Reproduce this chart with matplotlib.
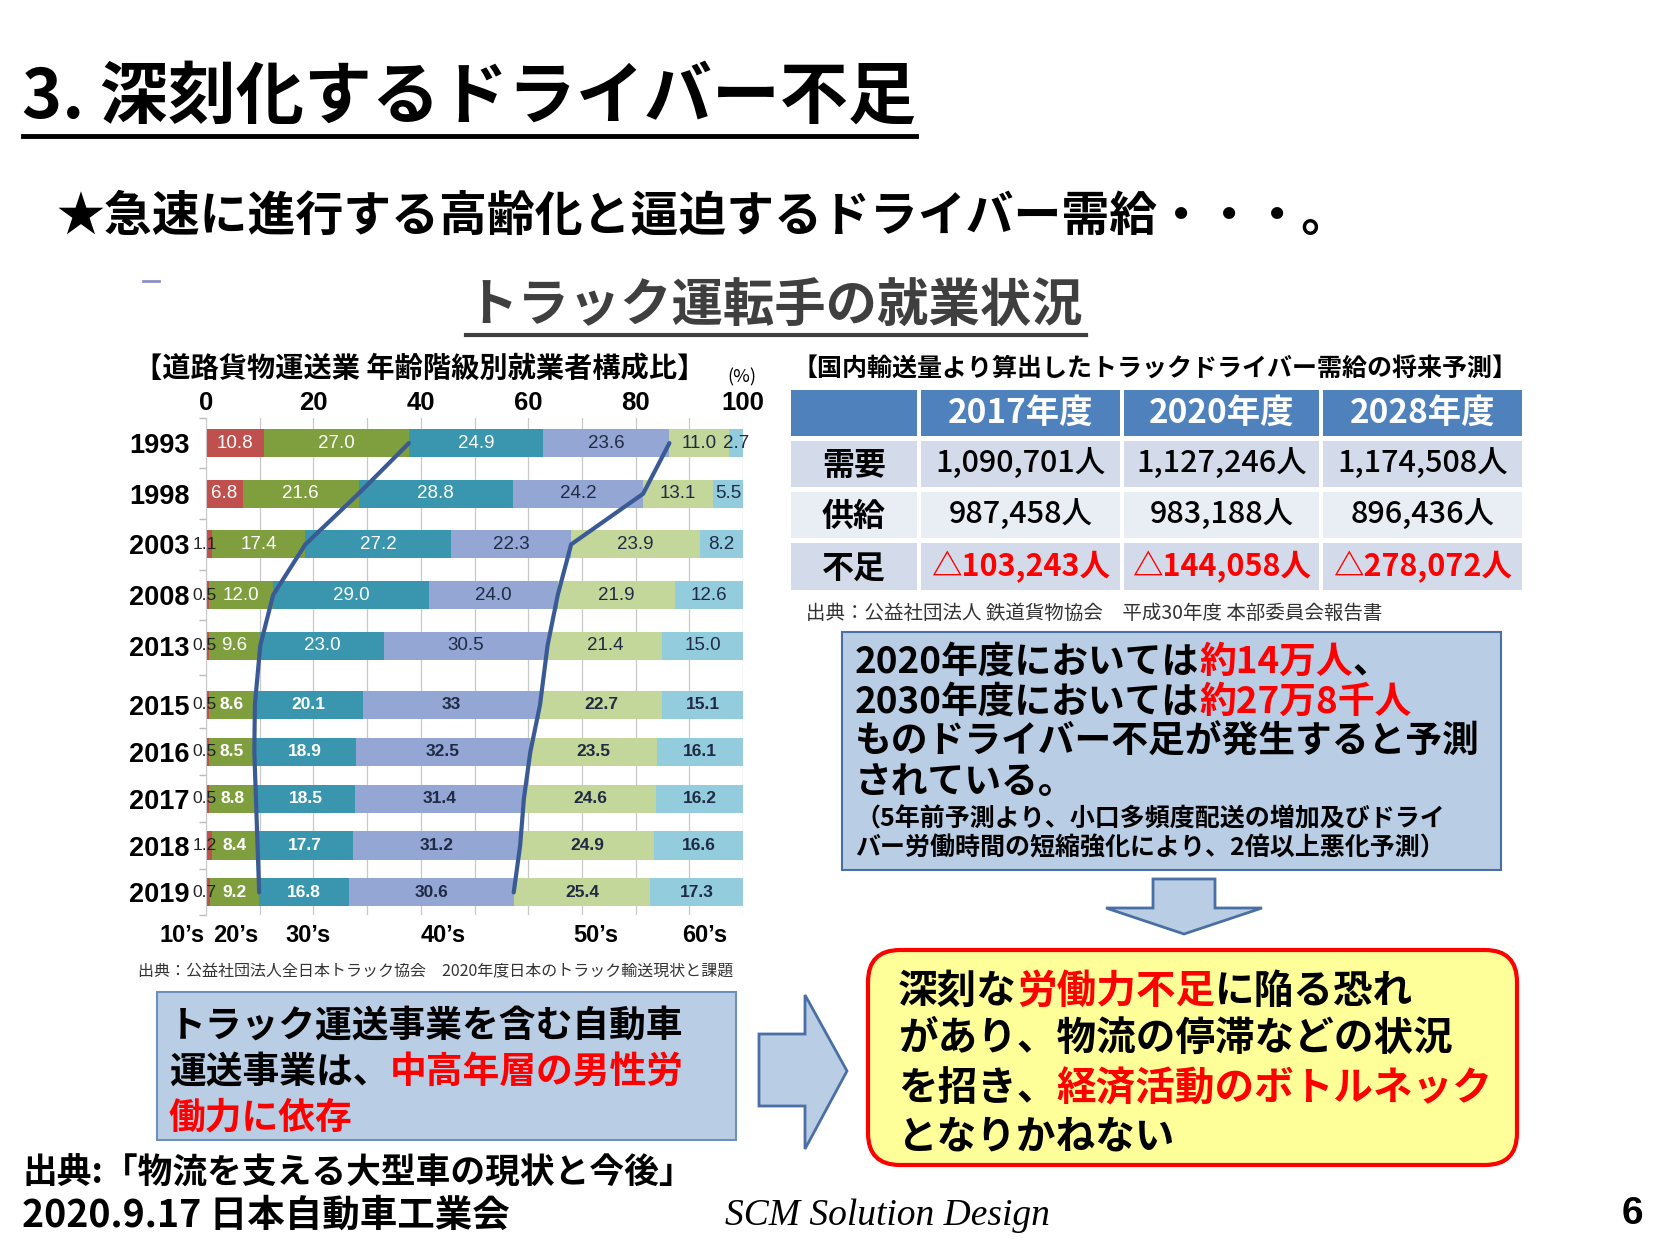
import numpy as np
import matplotlib
matplotlib.use('Agg')
import matplotlib.pyplot as plt
from matplotlib.patches import Rectangle, Polygon, FancyBboxPatch

plt.rcParams['font.family'] = ['Noto Sans CJK JP', 'DejaVu Sans']

# ---------------- data ----------------
years = ['1993', '1998', '2003', '2008', '2013', '2015', '2016', '2017', '2018', '2019']
age_groups = ["10’s", "20’s", "30’s", "40’s", "50’s", "60’s"]
teens = [10.8, 6.8, 1.1, 0.5, 0.5, 0.5, 0.5, 0.5, 1.2, 0.7]
twenties = [27.0, 21.6, 17.4, 12.0, 9.6, 8.6, 8.5, 8.8, 8.4, 9.2]
thirties = [24.9, 28.8, 27.2, 29.0, 23.0, 20.1, 18.9, 18.5, 17.7, 16.8]
forties = [23.6, 24.2, 22.3, 24.0, 30.5, 33, 32.5, 31.4, 31.2, 30.6]
fifties = [11.0, 13.1, 23.9, 21.9, 21.4, 22.7, 23.5, 24.6, 24.9, 25.4]
sixties = [2.7, 5.5, 8.2, 12.6, 15.0, 15.1, 16.1, 16.2, 16.6, 17.3]
x_ticks = [0, 20, 40, 60, 80, 100]

table_years = ['2017年度', '2020年度', '2028年度']
row_labels = ['需要', '供給', '不足']
demand = [1090701, 1127246, 1174508]
supply = [987458, 983188, 896436]
shortage = [103243, 144058, 278072]

seg_colors = ['#C0504D', '#7F9F3F', '#3A96AE', '#93A6D4', '#C4D79B', '#93CDDD']

# ---------------- figure ----------------
W, H = 1660, 1245
fig = plt.figure(figsize=(W / 100, H / 100), dpi=100)
ax0 = fig.add_axes([0, 0, 1, 1], zorder=0)
ax0.set_xlim(0, W)
ax0.set_ylim(H, 0)
ax0.axis('off')


def T(x, y, s, size, color='black', weight='bold', ha='left', va='center', **kw):
    return ax0.text(x, y, s, fontsize=size, color=color, fontweight=weight,
                    ha=ha, va=va, **kw)


def rich(x, y, segs, size, weight='bold'):
    t = ax0.text(x, y, segs[0][0], color=segs[0][1], fontsize=size,
                 fontweight=weight, ha='left', va='baseline')
    for s, c in segs[1:]:
        t = ax0.annotate(s, xy=(1, 0), xycoords=t, color=c, fontsize=size,
                         fontweight=weight, ha='left', va='bottom')
    return t


RED = '#FF0000'

# titles
T(22, 98, '3. 深刻化するドライバー不足', 49)
ax0.plot([23, 916], [136, 136], color='black', lw=3.5)
T(56, 216, '★急速に進行する高齢化と逼迫するドライバー需給・・・。', 34.5)
ax0.plot([143, 159], [281, 281], color='#8E8EC8', lw=2)
T(466, 306, 'トラック運転手の就業状況', 37, color='#3F3F3F')
ax0.plot([466, 1086], [335, 335], color='#3F3F3F', lw=3)

# chart header texts
T(134, 369, '【道路貨物運送業 年齢階級別就業者構成比】', 20.3)
T(742, 377, '(%)', 13, weight='normal', ha='center')
T(138, 972, '出典：公益社団法人全日本トラック協会　2020年度日本のトラック輸送現状と課題',
  11.5, weight='normal', color='#333333')
for lab, xp in zip(age_groups, [182, 236, 308, 443, 596, 705]):
    T(xp, 935, lab, 17, ha='center', family=['Liberation Sans', 'DejaVu Sans'])

# ---------------- table ----------------
T(792, 369, '【国内輸送量より算出したトラックドライバー需給の将来予測】', 18)
col_edges = [(791, 917), (921, 1120), (1124, 1319), (1323, 1522)]
row_edges = [(390, 436), (441, 487), (492, 538), (543, 590)]
row_fill = ['#4F81BD', '#D3DBEA', '#E9EDF4', '#D3DBEA']
for (y0, y1), fc in zip(row_edges, row_fill):
    for (x0, x1) in col_edges:
        ax0.add_patch(Rectangle((x0, y0), x1 - x0, y1 - y0, facecolor=fc,
                                edgecolor='none'))
for j, ty in enumerate(table_years):
    x0, x1 = col_edges[j + 1]
    y0, y1 = row_edges[0]
    T((x0 + x1) / 2, (y0 + y1) / 2, ty, 24, color='white', ha='center')
values = [[f'{v:,}人' for v in demand],
          [f'{v:,}人' for v in supply],
          [f'△{v:,}人' for v in shortage]]
for i, lab in enumerate(row_labels):
    y0, y1 = row_edges[i + 1]
    x0, x1 = col_edges[0]
    T((x0 + x1) / 2, (y0 + y1) / 2 + 2, lab, 23, ha='center')
    for j in range(3):
        cx0, cx1 = col_edges[j + 1]
        red = (i == 2)
        T((cx0 + cx1) / 2, (y0 + y1) / 2, values[i][j], 22,
          color=RED if red else 'black', weight='bold' if red else 'medium',
          ha='center')
T(806, 613, '出典：公益社団法人 鉄道貨物協会　平成30年度 本部委員会報告書', 14,
  weight='normal', color='#333333')

# ---------------- boxes & arrows ----------------
ax0.add_patch(Rectangle((842, 632), 659, 238, facecolor='#B9CDE5',
                        edgecolor='#4A6FA5', lw=1.5))
rich(855, 673, [('2020年度においては', 'black'), ('約14万人', RED), ('、', 'black')], 26.5)
rich(855, 713, [('2030年度においては', 'black'), ('約27万8千人', RED)], 26.5)
rich(855, 753, [('ものドライバー不足が発生すると予測', 'black')], 26.5)
rich(855, 793, [('されている。', 'black')], 26.5)
rich(855, 826, [('（5年前予測より、小口多頻度配送の増加及びドライ', 'black')], 18)
rich(855, 856, [('バー労働時間の短縮強化により、2倍以上悪化予測）', 'black')], 18)

ax0.add_patch(Polygon([(1153, 879), (1215, 879), (1215, 908), (1262, 908),
                       (1184, 934), (1106, 908), (1153, 908)], closed=True,
                      facecolor='#B9CDE5', edgecolor='#4A6FA5', lw=2))

ax0.add_patch(FancyBboxPatch((868, 950), 649, 215,
                             boxstyle='round,pad=0,rounding_size=32',
                             facecolor='#FFFF99', edgecolor='#FF0000', lw=3))
rich(898, 1003, [('深刻な', 'black'), ('労働力不足', RED), ('に陥る恐れ', 'black')], 28.5)
rich(898, 1050, [('があり、物流の停滞などの状況', 'black')], 28.5)
rich(898, 1100, [('を招き、', 'black'), ('経済活動のボトルネック', RED)], 28.5)
rich(898, 1148, [('となりかねない', 'black')], 28.5)

ax0.add_patch(Rectangle((157, 992), 579, 148, facecolor='#B9CDE5',
                        edgecolor='#6F8FBF', lw=1.5))
rich(169, 1038, [('トラック運送事業を含む自動車', 'black')], 26.5)
rich(169, 1083, [('運送事業は、', 'black'), ('中高年層の男性労', RED)], 26.5)
rich(169, 1128, [('働力に依存', RED)], 26.5)

ax0.add_patch(Polygon([(759, 1034), (805, 1034), (805, 995), (847, 1071),
                       (805, 1149), (805, 1106), (759, 1106)], closed=True,
                      facecolor='#B9CDE5', edgecolor='#4A6FA5', lw=2))

# footer
rich(22, 1184, [('出典:「物流を支える大型車の現状と今後」', 'black')], 25)
rich(22, 1227, [('2020.9.17 日本自動車工業会', 'black')], 27)
T(725, 1216, 'SCM Solution Design', 27, weight='normal', style='italic',
  family=['Liberation Serif', 'DejaVu Serif'])
T(1632, 1214, '6', 28, ha='center', family=['Liberation Sans', 'DejaVu Sans'])

# ---------------- stacked bar chart ----------------
ax = fig.add_axes([206 / W, 1 - 915 / H, 537 / W, 497 / H], zorder=2)
ax.patch.set_alpha(0)
idx = np.arange(len(years))
ypos = np.where(idx < 5, idx * 1.01, 5.22 + (idx - 5) * 0.935)
segments = [teens, twenties, thirties, forties, fifties, sixties]
left = np.zeros(len(years))
centers = []
for seg, col in zip(segments, seg_colors):
    seg = np.asarray(seg, dtype=float)
    ax.barh(ypos, seg, left=left, height=0.56, color=col, edgecolor='none', zorder=2)
    centers.append(left + seg / 2)
    left = left + seg

for i in range(len(years)):
    upper = i < 5
    fmt = '{:.1f}' if upper else '{:g}'
    for k, seg in enumerate(segments):
        v = seg[i]
        s = fmt.format(v)
        if k == 0 and v < 2:
            ax.text(-0.3, ypos[i], s, ha='center', va='center', fontsize=12.5,
                    color='#222222', family=['Liberation Sans', 'DejaVu Sans'], zorder=4)
            continue
        if upper:
            white = k <= 2
        else:
            white = k in (1, 2)
        ax.text(centers[k][i], ypos[i], s, ha='center', va='center',
                fontsize=13.5 if upper else 12.5,
                fontweight='normal' if upper else 'bold',
                color='white' if white else '#1F2A44',
                family=['Liberation Sans', 'DejaVu Sans'], zorder=4)

cum_under30 = np.asarray(teens) + np.asarray(twenties)
cum_under50 = cum_under30 + np.asarray(thirties) + np.asarray(forties)
ax.plot(cum_under30, ypos, color='#3A5A96', lw=3, zorder=5, solid_capstyle='round')
ax.plot(cum_under50, ypos, color='#3A5A96', lw=3, zorder=5, solid_capstyle='round')

ax.set_xlim(0, 100)
ax.set_ylim(ypos[-1] + 0.45, -0.34)
ax.xaxis.tick_top()
ax.set_xticks(x_ticks)
ax.set_xticklabels([str(t) for t in x_ticks], fontsize=18.5, fontweight='bold',
                   family=['Liberation Sans', 'DejaVu Sans'])
ax.set_xticks(np.arange(10, 100, 20), minor=True)
ax.tick_params(axis='x', which='both', length=0, pad=2)
ax.grid(axis='x', which='both', color='#C8C8C8', lw=0.9, zorder=0)
ax.set_axisbelow(True)
ax.set_yticks(ypos)
ax.set_yticklabels(years, fontsize=19.5, fontweight='bold',
                   family=['Liberation Sans', 'DejaVu Sans'])
mids = np.concatenate([[ypos[0] - 0.5], (ypos[:-1] + ypos[1:]) / 2, [ypos[-1] + 0.45]])
ax.set_yticks(mids, minor=True)
ax.tick_params(axis='y', which='major', length=0, pad=12)
ax.tick_params(axis='y', which='minor', length=5, color='#BBBBBB', width=1)
for sp in ['top', 'right', 'bottom']:
    ax.spines[sp].set_visible(False)
ax.spines['left'].set_color('#C8C8C8')

fig.savefig('out.png', dpi=100)
